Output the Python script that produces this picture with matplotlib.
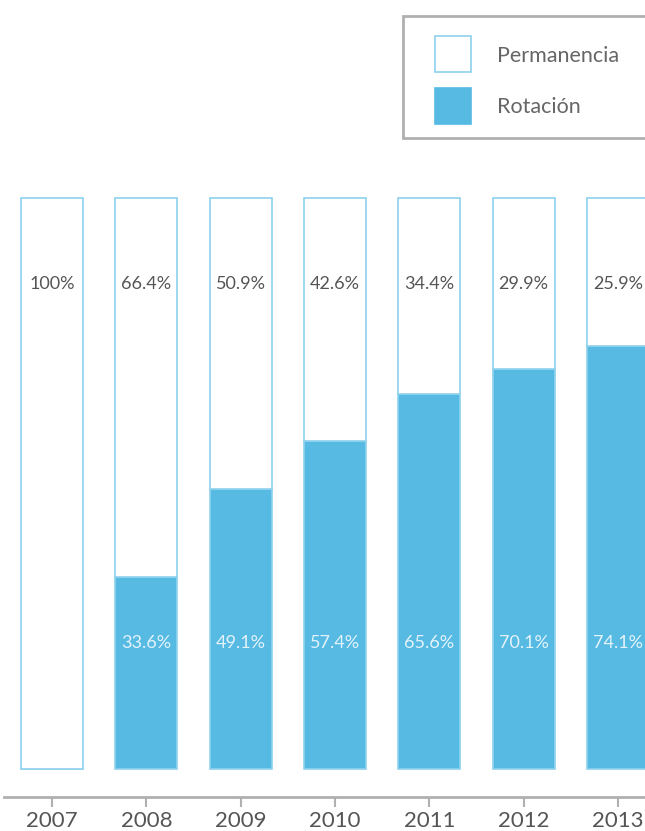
import matplotlib
matplotlib.use("Agg")
import matplotlib.pyplot as plt
from matplotlib.patches import Rectangle

years = ["2007", "2008", "2009", "2010", "2011", "2012", "2013"]
rotacion = [0, 33.6, 49.1, 57.4, 65.6, 70.1, 74.1]
permanencia = [100, 66.4, 50.9, 42.6, 34.4, 29.9, 25.9]

BLUE = "#56bae3"
EDGE = "#8ed1ee"
plt.rcParams["font.family"] = ["Lato", "DejaVu Sans"]

fig = plt.figure(figsize=(6.45, 8.31), dpi=100)
ax = fig.add_axes([4 / 645, 1 - 797 / 831, 1 - 4 / 645, (797 - 180) / 831])

x = list(range(len(years)))
ax.bar(x, rotacion, width=0.657, color=BLUE, edgecolor=EDGE, linewidth=1.2)
ax.bar(x, permanencia, bottom=rotacion, width=0.657, color="white", edgecolor=EDGE, linewidth=1.2)

for i, (r, p) in enumerate(zip(rotacion, permanencia)):
    lab = "100%" if p == 100 else f"{p}%"
    ax.text(i, 85, lab, ha="center", va="center", fontsize=13, color="#555555")
    if r > 0:
        ax.text(i, 22, f"{r}%", ha="center", va="center", fontsize=13, color="#e4f3fb")

ax.set_xlim(-0.509, 6.286)
ax.set_ylim(-4.9, 103.15)
ax.set_xticks(x)
ax.set_xticklabels(years, fontsize=16, color="#555555")
ax.set_yticks([])
for s in ["top", "right", "left"]:
    ax.spines[s].set_visible(False)
ax.spines["bottom"].set_color("#b0b0b0")
ax.spines["bottom"].set_linewidth(2)
ax.tick_params(axis="x", length=7, width=1.5, color="#b0b0b0", pad=3)

# legend drawn by hand (box runs off the right edge)
fig.patches.append(Rectangle((403 / 645, 1 - 138 / 831), 0.5, 122 / 831, transform=fig.transFigure,
                             facecolor="white", edgecolor="#b0b0b0", linewidth=2, zorder=5))
fig.patches.append(Rectangle((435 / 645, 1 - 72 / 831), 36 / 645, 36 / 831, transform=fig.transFigure,
                             facecolor="white", edgecolor=EDGE, linewidth=1.2, zorder=6))
fig.patches.append(Rectangle((435 / 645, 1 - 124 / 831), 36 / 645, 36 / 831, transform=fig.transFigure,
                             facecolor=BLUE, edgecolor=BLUE, linewidth=1.2, zorder=6))
fig.text(497 / 645, 1 - 56 / 831, "Permanencia", fontsize=15.5, color="#666666", va="center", zorder=7)
fig.text(497 / 645, 1 - 107 / 831, "Rotación", fontsize=15.5, color="#666666", va="center", zorder=7)

fig.savefig("out.png", dpi=100)
